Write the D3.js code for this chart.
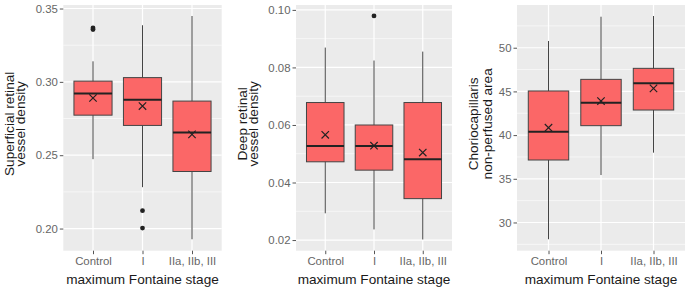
<!DOCTYPE html>
<html>
<head>
<meta charset="utf-8">
<script src="https://cdn.jsdelivr.net/npm/d3@7"></script>
<style>
  body { margin: 0; background: #fff; }
  svg { display: block; font-family: Arial, "Liberation Sans", sans-serif; }
</style>
</head>
<body>
<div id="chart"></div>
<script>
const width = 685;
const height = 290;

// Categories (x axis)
const stages = ["Control", "I", "IIa, IIb, III"];

// Box stats per stage: [lower whisker, Q1, median, Q3, upper whisker]
const superficialBoxes = [
  [0.2473, 0.2773, 0.292, 0.3005, 0.314],
  [0.2282, 0.2703, 0.2878, 0.3029, 0.3386],
  [0.1927, 0.2389, 0.2655, 0.2869, 0.3449],
];
const superficialMeans = [0.289, 0.2835, 0.2642];
const superficialOutliers = [[0.3368, 0.3357], [0.2122, 0.2003], []];
const superficialTicks = [0.2, 0.25, 0.3, 0.35];
const superficialDomain = [0.1849, 0.3524];

const deepBoxes = [
  [0.0293, 0.0472, 0.0527, 0.0678, 0.0869],
  [0.0237, 0.0443, 0.0527, 0.06, 0.0824],
  [0.0202, 0.0344, 0.0481, 0.0678, 0.0855],
];
const deepMeans = [0.0566, 0.0528, 0.0504];
const deepOutliers = [[], [0.0979], []];
const deepTicks = [0.02, 0.04, 0.06, 0.08, 0.1];
const deepDomain = [0.0163, 0.1017];

const chorioBoxes = [
  [28.08, 37.15, 40.39, 45.05, 50.77],
  [35.43, 41.08, 43.71, 46.38, 53.55],
  [37.99, 42.87, 45.93, 47.64, 53.63],
];
const chorioMeans = [40.85, 43.9, 45.35];
const chorioOutliers = [[], [], []];
const chorioTicks = [30, 35, 40, 45, 50];
const chorioDomain = [26.77, 54.89];

const panels = [
  {
    boxes: superficialBoxes, means: superficialMeans, outliers: superficialOutliers,
    ticks: superficialTicks, minor: [0.225, 0.275, 0.325], domain: superficialDomain,
    fmt: d3.format(".2f"), title: ["Superficial retinal", "vessel density"],
    left: 63.3, right: 221.7, titleX: [9, 20],
  },
  {
    boxes: deepBoxes, means: deepMeans, outliers: deepOutliers,
    ticks: deepTicks, minor: [0.03, 0.05, 0.07, 0.09], domain: deepDomain,
    fmt: d3.format(".2f"), title: ["Deep retinal", "vessel density"],
    left: 296, right: 452, titleX: [242, 253],
  },
  {
    boxes: chorioBoxes, means: chorioMeans, outliers: chorioOutliers,
    ticks: chorioTicks, minor: [27.5, 32.5, 37.5, 42.5, 47.5, 52.5], domain: chorioDomain,
    fmt: d3.format("d"), title: ["Choriocapillaris", "non-perfused area"],
    left: 517, right: 685, titleX: [473, 487],
  },
];

const panelTop = 5;
const panelBottom = 250.7;

const svg = d3
  .select("#chart")
  .append("svg")
  .attr("width", width)
  .attr("height", height);

panels.forEach((p) => {
  const xScale = d3
    .scalePoint()
    .domain(stages)
    .range([p.left, p.right])
    .padding(0.6);

  const yScale = d3
    .scaleLinear()
    .domain(p.domain)
    .range([panelBottom, panelTop]);

  const boxWidth = xScale.step() * 0.77;

  const g = svg.append("g");

  // Panel background
  g.append("rect")
    .attr("x", p.left)
    .attr("y", panelTop)
    .attr("width", p.right - p.left)
    .attr("height", panelBottom - panelTop)
    .attr("fill", "#ebebeb");

  // Minor grid
  g.selectAll(".minor")
    .data(p.minor)
    .enter()
    .append("line")
    .attr("x1", p.left)
    .attr("x2", p.right)
    .attr("y1", (d) => yScale(d))
    .attr("y2", (d) => yScale(d))
    .attr("stroke", "#fff")
    .attr("stroke-width", 0.6);

  // Major grid
  g.selectAll(".major")
    .data(p.ticks)
    .enter()
    .append("line")
    .attr("x1", p.left)
    .attr("x2", p.right)
    .attr("y1", (d) => yScale(d))
    .attr("y2", (d) => yScale(d))
    .attr("stroke", "#fff")
    .attr("stroke-width", 1.2);

  g.selectAll(".vgrid")
    .data(stages)
    .enter()
    .append("line")
    .attr("x1", (d) => xScale(d))
    .attr("x2", (d) => xScale(d))
    .attr("y1", panelTop)
    .attr("y2", panelBottom)
    .attr("stroke", "#fff")
    .attr("stroke-width", 1.2);

  // Axes
  const yAxis = g
    .append("g")
    .attr("transform", `translate(${p.left}, 0)`)
    .call(d3.axisLeft(yScale).tickValues(p.ticks).tickFormat(p.fmt).tickSize(3.5).tickPadding(2));
  yAxis.select(".domain").remove();
  yAxis.selectAll("line").attr("stroke", "#555");
  yAxis.selectAll("text").attr("fill", "#666").style("font-size", "11.4px");

  const xAxis = g
    .append("g")
    .attr("transform", `translate(0, ${panelBottom})`)
    .call(d3.axisBottom(xScale).tickSize(3.5).tickPadding(3));
  xAxis.select(".domain").remove();
  xAxis.selectAll("line").attr("stroke", "#555");
  xAxis.selectAll("text").attr("fill", "#666").style("font-size", "11.4px");

  // Whiskers
  g.selectAll(".whisker")
    .data(p.boxes)
    .enter()
    .append("line")
    .attr("x1", (d, i) => xScale(stages[i]))
    .attr("x2", (d, i) => xScale(stages[i]))
    .attr("y1", (d) => yScale(d[0]))
    .attr("y2", (d) => yScale(d[4]))
    .attr("stroke", "#444")
    .attr("stroke-width", 1);

  // Boxes
  g.selectAll(".box")
    .data(p.boxes)
    .enter()
    .append("rect")
    .attr("x", (d, i) => xScale(stages[i]) - boxWidth / 2)
    .attr("y", (d) => yScale(d[3]))
    .attr("width", boxWidth)
    .attr("height", (d) => yScale(d[1]) - yScale(d[3]))
    .attr("fill", "#fb6767")
    .attr("stroke", "#444")
    .attr("stroke-width", 1);

  // Medians
  g.selectAll(".median")
    .data(p.boxes)
    .enter()
    .append("line")
    .attr("x1", (d, i) => xScale(stages[i]) - boxWidth / 2)
    .attr("x2", (d, i) => xScale(stages[i]) + boxWidth / 2)
    .attr("y1", (d) => yScale(d[2]))
    .attr("y2", (d) => yScale(d[2]))
    .attr("stroke", "#222")
    .attr("stroke-width", 2);

  // Outliers
  p.outliers.forEach((vals, i) => {
    g.selectAll(null)
      .data(vals)
      .enter()
      .append("circle")
      .attr("cx", xScale(stages[i]))
      .attr("cy", (d) => yScale(d))
      .attr("r", 2.4)
      .attr("fill", "#222");
  });

  // Mean markers (x)
  const m = 3.7;
  p.means.forEach((d, i) => {
    const cx = xScale(stages[i]);
    const cy = yScale(d);
    g.append("path")
      .attr("d", `M${cx - m},${cy - m}L${cx + m},${cy + m}M${cx - m},${cy + m}L${cx + m},${cy - m}`)
      .attr("stroke", "#222")
      .attr("stroke-width", 1.2)
      .attr("fill", "none");
  });

  // Axis titles
  const midY = (panelTop + panelBottom) / 2 - 4;
  p.title.forEach((line, k) => {
    g.append("text")
      .attr("transform", `translate(${p.titleX[k]}, ${midY}) rotate(-90)`)
      .attr("text-anchor", "middle")
      .attr("dominant-baseline", "central")
      .attr("fill", "#1a1a1a")
      .style("font-size", "13.6px")
      .text(line);
  });

  g.append("text")
    .attr("x", (p.left + p.right) / 2)
    .attr("y", 279)
    .attr("text-anchor", "middle")
    .attr("dominant-baseline", "central")
    .attr("fill", "#1a1a1a")
    .style("font-size", "13.6px")
    .text("maximum Fontaine stage");
});
</script>
</body>
</html>
